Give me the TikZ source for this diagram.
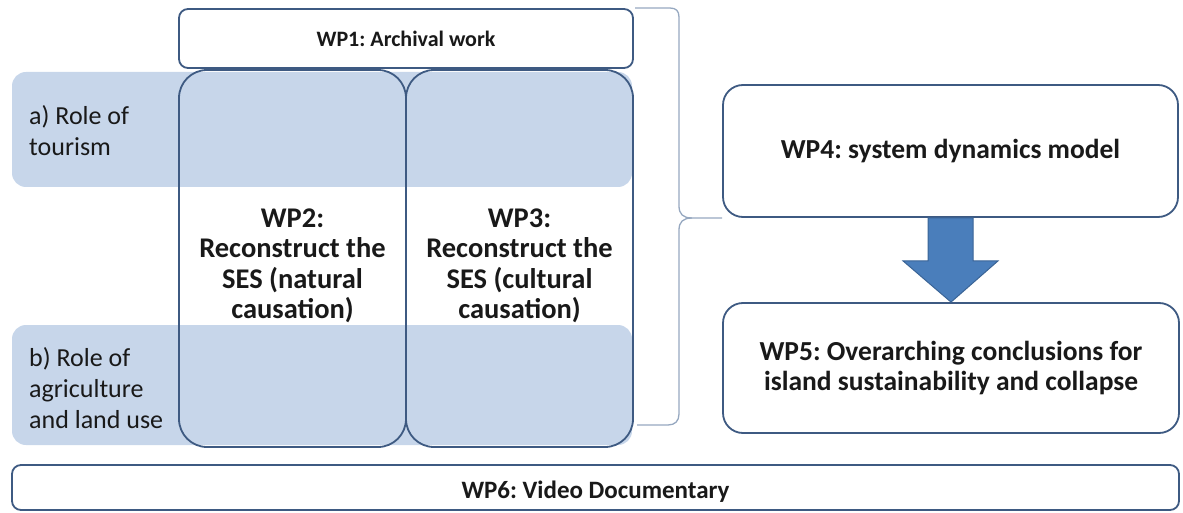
\documentclass[tikz,border=0pt]{standalone}
\usepackage{fontspec}
\setmainfont{Carlito}
\usetikzlibrary{calc}
\definecolor{bandblue}{RGB}{199,214,234}
\definecolor{edgec}{RGB}{62,90,130}
\definecolor{bracec}{RGB}{150,168,192}
\definecolor{arrowfill}{RGB}{74,126,187}
\definecolor{arrowedge}{RGB}{58,100,150}
\definecolor{txt}{RGB}{25,25,25}
\frenchspacing
\begin{document}
\begin{tikzpicture}[x=1pt,y=-1pt,
  band/.style={fill=bandblue, rounded corners=14pt, inner sep=0pt, outer sep=0pt},
  wpbox/.style={draw=edgec, line width=1.8pt, rounded corners=#1, inner sep=0pt, align=center, text=txt, font=\bfseries\fontsize{27.5}{30}\selectfont},
  wptext/.style={inner sep=0pt, align=center, text=txt, font=\bfseries\fontsize{28.5}{30.5}\selectfont},
  lbl/.style={inner sep=0pt, align=left, text=txt, font=\fontsize{26}{31}\selectfont},
  bracestyle/.style={draw=bracec, line width=1.3pt},
  arrowstyle/.style={fill=arrowfill, draw=arrowedge, line width=1pt, line join=miter}]
\useasboundingbox (0,0) rectangle (1183,513);
% bands
\node[band, minimum width=620pt, minimum height=115pt] (banda) at (322,129.5) {};
\node[band, minimum width=620pt, minimum height=120pt] (bandb) at (322,385) {};
% labels
\node[lbl, anchor=west] (la) at (29,131) {a) Role of\\tourism};
\node[lbl, anchor=west] (lb) at (29,388) {b) Role of\\agriculture\\and land use};
% WP2 / WP3
\node[wpbox=28pt, minimum width=227pt, minimum height=377pt] (wp2) at (292.5,258.5) {};
\node[wpbox=28pt, minimum width=227pt, minimum height=377pt] (wp3) at (519.5,258.5) {};
\node[wptext] (wp2t) at (292.5,266) {WP2:\\Reconstruct the\\SES (natural\\causation)};
\node[wptext] (wp3t) at (519.5,266) {WP3:\\Reconstruct the\\SES (cultural\\causation)};
% WP1
\node[wpbox=9pt, fill=white, minimum width=454pt, minimum height=59pt, font=\bfseries\fontsize{22}{26}\selectfont] (wp1) at (406,38.5) {WP1: Archival work};
% WP4 / WP5
\node[wpbox=20pt, fill=white, minimum width=455pt, minimum height=132pt] (wp4) at (950.5,151) {WP4: system dynamics model};
\node[wpbox=20pt, fill=white, minimum width=456pt, minimum height=130pt] (wp5) at (951,368) {WP5: Overarching conclusions for\\island sustainability and collapse};
% WP6
\node[wpbox=9pt, fill=white, minimum width=1167pt, minimum height=45pt] (wp6) at (595.5,487.5) {};
\node[wptext, font=\bfseries\fontsize{25}{28}\selectfont] (wp6t) at (595.5,492) {WP6: Video Documentary};
% brace
\coordinate (btop) at (635,8);
\coordinate (bbot) at (637,425);
\coordinate (btip) at (722,218);
\draw[bracestyle] (btop) -- (670,8) .. controls (676,8) and (679,11) .. (679,17) -- (679,206)
  .. controls (679,214) and (683,218) .. (692,218) -- (btip);
\draw[bracestyle] (692,218) .. controls (683,218) and (679,222) .. (679,230) -- (679,414)
  .. controls (679,421) and (675,425) .. (668,425) -- (bbot);
% arrow
\draw[arrowstyle] ($(wp4.south)+(-22.5,0)$) -- ($(wp4.south)+(22.5,0)$) -- ($(wp4.south)+(22.5,43)$)
  -- ($(wp4.south)+(47.5,43)$) -- (wp5.north) -- ($(wp4.south)+(-47.5,43)$) -- ($(wp4.south)+(-22.5,43)$) -- cycle;
\end{tikzpicture}
\end{document}
